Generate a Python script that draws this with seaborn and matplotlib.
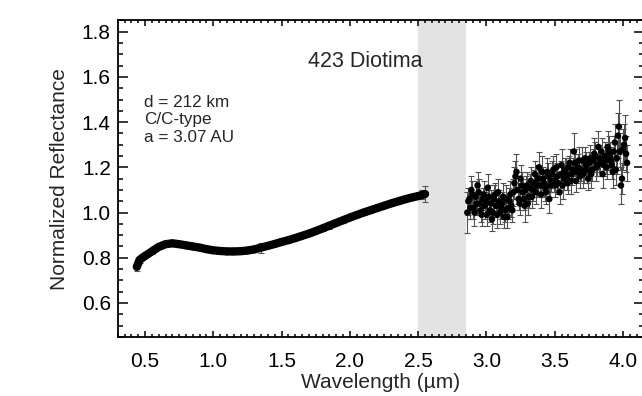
import matplotlib
matplotlib.use("Agg")
import matplotlib.pyplot as plt
import seaborn as sns
import pandas as pd
from matplotlib.ticker import MultipleLocator

# ---- data ----
vis_wl = [0.44, 0.46, 0.48, 0.50, 0.55, 0.60, 0.65, 0.70, 0.75, 0.80, 0.85, 0.90,
          0.95, 1.00, 1.05, 1.10, 1.15, 1.20, 1.25, 1.30, 1.35, 1.40, 1.45, 1.50,
          1.55, 1.60, 1.65, 1.70, 1.75, 1.80, 1.85, 1.90, 1.95, 2.00, 2.05, 2.10,
          2.15, 2.20, 2.25, 2.30, 2.35, 2.40, 2.45, 2.50, 2.53, 2.55]
vis_refl = [0.760, 0.790, 0.800, 0.808, 0.828, 0.848, 0.860, 0.864, 0.860, 0.855, 0.850, 0.845,
            0.838, 0.833, 0.830, 0.828, 0.828, 0.829, 0.832, 0.837, 0.845, 0.853, 0.861, 0.870,
            0.878, 0.887, 0.897, 0.907, 0.918, 0.930, 0.942, 0.954, 0.966, 0.978, 0.989, 1.000,
            1.010, 1.020, 1.030, 1.040, 1.049, 1.058, 1.066, 1.073, 1.078, 1.082]
vis_err = [0.02, 0.015, 0.01, 0.01, 0.01, 0.01, 0.01, 0.01, 0.012, 0.01, 0.01, 0.01,
           0.01, 0.01, 0.01, 0.01, 0.01, 0.01, 0.01, 0.01, 0.022, 0.01, 0.01, 0.01,
           0.01, 0.01, 0.01, 0.01, 0.01, 0.01, 0.016, 0.01, 0.01, 0.01, 0.01, 0.01,
           0.01, 0.01, 0.01, 0.01, 0.01, 0.01, 0.012, 0.015, 0.02, 0.035]

ir_wl = [2.860, 2.875, 2.890, 2.905, 2.920, 2.935, 2.950, 2.965, 2.980, 2.995,
         3.010, 3.025, 3.040, 3.055, 3.070, 3.085, 3.100, 3.115, 3.130, 3.145,
         3.160, 3.175, 3.190, 3.205, 3.220, 3.235, 3.250, 3.265, 3.280, 3.295,
         3.310, 3.325, 3.340, 3.355, 3.370, 3.385, 3.400, 3.415, 3.430, 3.445,
         3.460, 3.475, 3.490, 3.505, 3.520, 3.535, 3.550, 3.565, 3.580, 3.595,
         3.610, 3.625, 3.640, 3.655, 3.670, 3.685, 3.700, 3.715, 3.730, 3.745,
         3.760, 3.775, 3.790, 3.805, 3.820, 3.835, 3.850, 3.865, 3.880, 3.895,
         3.910, 3.925, 3.940, 3.955, 3.970, 3.985, 4.000, 4.015, 4.030]
ir_refl = [1.00, 1.06, 1.10, 1.02, 1.07, 1.12, 1.04, 0.99, 1.08, 1.05,
           1.11, 1.01, 0.97, 1.06, 1.03, 1.09, 1.00, 1.04, 0.98, 1.06,
           1.02, 1.08, 1.01, 1.13, 1.18, 1.06, 1.15, 1.09, 1.03, 1.12,
           1.07, 1.14, 1.10, 1.17, 1.12, 1.20, 1.08, 1.15, 1.11, 1.18,
           1.06, 1.14, 1.19, 1.12, 1.16, 1.09, 1.21, 1.15, 1.18, 1.13,
           1.22, 1.17, 1.27, 1.14, 1.20, 1.16, 1.23, 1.18, 1.21, 1.15,
           1.24, 1.19, 1.26, 1.20, 1.29, 1.22, 1.17, 1.25, 1.20, 1.27,
           1.23, 1.18, 1.31, 1.24, 1.38, 1.12, 1.28, 1.33, 1.22]
ir_err = [0.09, 0.05, 0.06, 0.05, 0.07, 0.06, 0.05, 0.05, 0.06, 0.05,
          0.06, 0.05, 0.05, 0.06, 0.05, 0.06, 0.05, 0.05, 0.05, 0.06,
          0.05, 0.06, 0.05, 0.07, 0.08, 0.05, 0.06, 0.06, 0.07, 0.06,
          0.05, 0.06, 0.05, 0.06, 0.05, 0.07, 0.06, 0.05, 0.06, 0.06,
          0.06, 0.05, 0.06, 0.05, 0.06, 0.05, 0.07, 0.05, 0.06, 0.05,
          0.06, 0.05, 0.08, 0.05, 0.06, 0.05, 0.06, 0.05, 0.06, 0.05,
          0.06, 0.05, 0.07, 0.06, 0.07, 0.06, 0.06, 0.06, 0.05, 0.07,
          0.06, 0.07, 0.08, 0.07, 0.12, 0.08, 0.09, 0.10, 0.08]

ir2_wl = [2.8675, 2.8825, 2.8975, 2.9125, 2.9275, 2.9425, 2.9575, 2.9725, 2.9875, 3.0025,
          3.0175, 3.0325, 3.0475, 3.0625, 3.0775, 3.0925, 3.1075, 3.1225, 3.1375, 3.1525,
          3.1675, 3.1825, 3.1975, 3.2125, 3.2275, 3.2425, 3.2575, 3.2725, 3.2875, 3.3025,
          3.3175, 3.3325, 3.3475, 3.3625, 3.3775, 3.3925, 3.4075, 3.4225, 3.4375, 3.4525,
          3.4675, 3.4825, 3.4975, 3.5125, 3.5275, 3.5425, 3.5575, 3.5725, 3.5875, 3.6025,
          3.6175, 3.6325, 3.6475, 3.6625, 3.6775, 3.6925, 3.7075, 3.7225, 3.7375, 3.7525,
          3.7675, 3.7825, 3.7975, 3.8125, 3.8275, 3.8425, 3.8575, 3.8725, 3.8875, 3.9025,
          3.9175, 3.9325, 3.9475, 3.9625, 3.9775, 3.9925, 4.0075, 4.0225]
ir2_refl = [1.05, 1.02, 1.08, 1.00, 1.04, 1.09, 1.01, 1.06, 1.03, 0.99,
            1.07, 1.04, 1.00, 1.08, 0.99, 1.05, 1.02, 1.07, 1.01, 0.98,
            1.05, 1.03, 1.09, 1.16, 1.10, 1.04, 1.12, 1.06, 1.10, 1.04,
            1.11, 1.07, 1.13, 1.09, 1.15, 1.12, 1.18, 1.13, 1.09, 1.16,
            1.12, 1.17, 1.14, 1.20, 1.13, 1.17, 1.12, 1.19, 1.16, 1.20,
            1.14, 1.19, 1.22, 1.18, 1.23, 1.19, 1.17, 1.24, 1.19, 1.22,
            1.17, 1.23, 1.25, 1.21, 1.24, 1.27, 1.21, 1.23, 1.29, 1.25,
            1.21, 1.27, 1.19, 1.34, 1.27, 1.15, 1.30, 1.26]
ir2_err = [0.06, 0.05, 0.06, 0.06, 0.05, 0.06, 0.05, 0.05, 0.06, 0.05,
           0.05, 0.06, 0.05, 0.05, 0.06, 0.05, 0.05, 0.06, 0.05, 0.05,
           0.06, 0.05, 0.06, 0.07, 0.06, 0.05, 0.06, 0.05, 0.06, 0.05,
           0.06, 0.05, 0.06, 0.05, 0.06, 0.05, 0.07, 0.06, 0.05, 0.06,
           0.05, 0.06, 0.05, 0.06, 0.05, 0.06, 0.06, 0.05, 0.06, 0.05,
           0.06, 0.05, 0.06, 0.05, 0.06, 0.05, 0.06, 0.05, 0.06, 0.05,
           0.06, 0.05, 0.06, 0.05, 0.06, 0.06, 0.05, 0.06, 0.07, 0.06,
           0.06, 0.07, 0.07, 0.10, 0.08, 0.07, 0.09, 0.08]

gap_band = [2.50, 2.85]
title_text = "423 Diotima"
info_lines = ["d = 212 km", "C/C-type", "a = 3.07 AU"]
x_ticks = [0.5, 1.0, 1.5, 2.0, 2.5, 3.0, 3.5, 4.0]
y_ticks = [0.6, 0.8, 1.0, 1.2, 1.4, 1.6, 1.8]

# ---- style ----
sns.set_style("ticks")
plt.rcParams["font.family"] = ["Liberation Sans", "DejaVu Sans"]
plt.rcParams["axes.linewidth"] = 1.3

W, H = 642, 396
fig = plt.figure(figsize=(W / 100, H / 100), dpi=100)
x0, x1 = 117.7, 643.5
y0, y1 = 20.4, 336.9
ax = fig.add_axes([x0 / W, 1 - y1 / H, (x1 - x0) / W, (y1 - y0) / H])

ax.axvspan(gap_band[0], gap_band[1], color="#e3e3e3", lw=0, zorder=0)

vis = pd.DataFrame({"wl": vis_wl, "r": vis_refl, "e": vis_err})
ir = pd.DataFrame({"wl": ir_wl + ir2_wl, "r": ir_refl + ir2_refl,
                   "e": ir_err + ir2_err})

ax.errorbar(vis["wl"], vis["r"], yerr=vis["e"], fmt="none", ecolor="#555555",
            elinewidth=0.8, capsize=2, capthick=0.8, zorder=2)
sns.lineplot(data=vis, x="wl", y="r", ax=ax, color="black", lw=6, zorder=3,
             sort=False, estimator=None)
sns.scatterplot(data=vis, x="wl", y="r", ax=ax, color="black", s=30,
                edgecolor="none", zorder=4)

ax.errorbar(ir["wl"], ir["r"], yerr=ir["e"], fmt="none", ecolor="#505050",
            elinewidth=0.8, capsize=2.2, capthick=0.8, zorder=2)
sns.scatterplot(data=ir, x="wl", y="r", ax=ax, color="black", s=22,
                edgecolor="none", zorder=4)

ax.set_xlim(0.3, 4.15)
ax.set_ylim(0.45, 1.85)
ax.set_xticks(x_ticks)
ax.set_xticklabels([f"{v:.1f}" for v in x_ticks])
ax.set_yticks(y_ticks)
ax.set_yticklabels([f"{v:.1f}" for v in y_ticks])
ax.xaxis.set_minor_locator(MultipleLocator(0.05))
ax.yaxis.set_minor_locator(MultipleLocator(0.05))
ax.tick_params(axis="both", which="both", direction="in", top=True, right=True,
               width=1.1, colors="black", labelsize=15)
ax.tick_params(axis="x", which="major", length=4.5, pad=11)
ax.tick_params(axis="x", which="minor", length=2.3)
ax.tick_params(axis="y", which="major", length=7.5, pad=5)
ax.tick_params(axis="y", which="minor", length=3.5)
for s in ax.spines.values():
    s.set_visible(True)
    s.set_color("black")

ax.set_xlabel("Wavelength (\u00b5m)", fontsize=15, labelpad=1)
ax.set_ylabel("Normalized Reflectance", fontsize=15, labelpad=9)

ax.text(2.11, 1.667, title_text, fontsize=15.5, ha="center", va="center")
for yv, line in zip([1.488, 1.41, 1.332], info_lines):
    ax.text(0.49, yv, line, fontsize=12.3, ha="left", va="center")

fig.savefig("out.png", dpi=100)
